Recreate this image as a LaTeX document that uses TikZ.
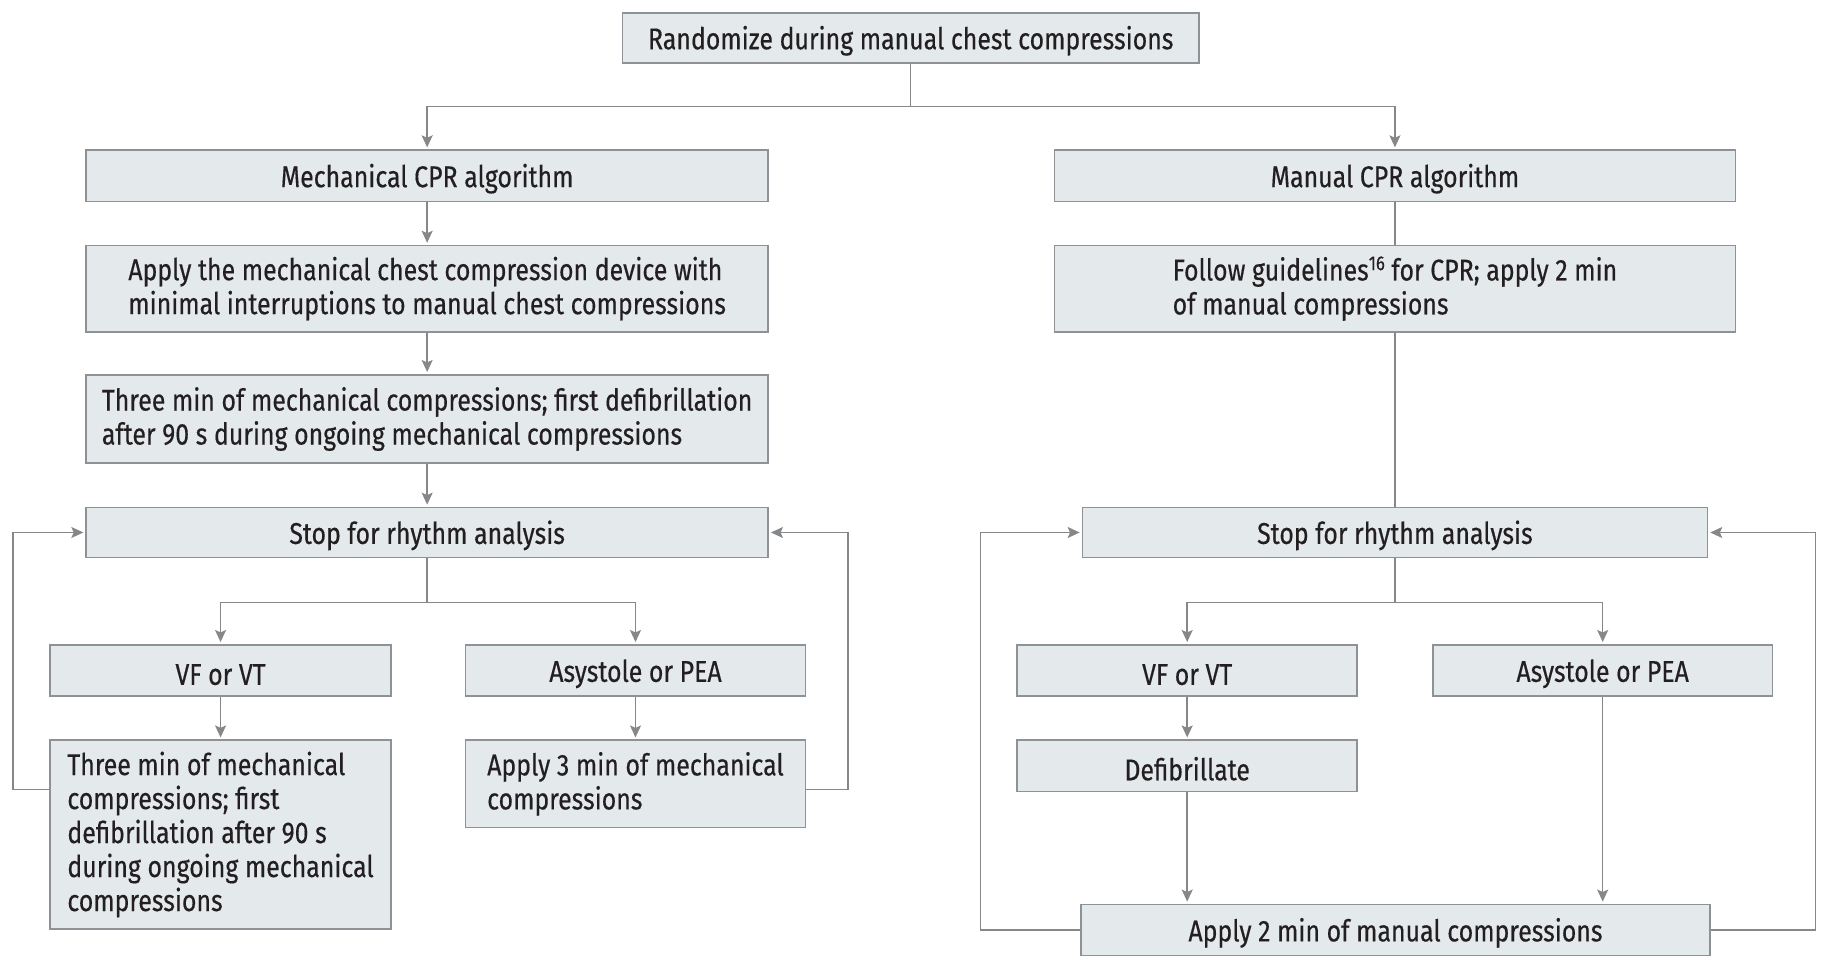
\documentclass[tikz,border=0pt]{standalone}
\usepackage{fontspec}
\setmainfont{Fira Sans}[FakeStretch=0.83,FakeBold=0.4]
\usetikzlibrary{arrows.meta}
\definecolor{boxfill}{HTML}{E4E9EC}
\definecolor{boxline}{HTML}{8E9296}
\definecolor{conn}{HTML}{858789}
\definecolor{txt}{HTML}{231F20}
\newcommand\mybox[6]{\node[bx,minimum width={(#4-#2)*0.582pt},minimum height={(#5-#3)*0.582pt}] (#1) at ({(#2+#4)/2},{(#3+#5)/2}) {#6};}
\newcommand\mysup[1]{\raisebox{5.2pt}{\fontsize{10}{10}\selectfont #1}}
\begin{document}
\begin{tikzpicture}[x=0.582pt,y=-0.582pt,
 bx/.style={draw=boxline,fill=boxfill,line width=0.8pt,inner sep=0pt,text=txt,font=\fontsize{15}{17}\selectfont,align=left,execute at begin node={\rule{0pt}{14.6pt}}},
 ln/.style={draw=conn,line width=0.7pt},
 ar/.style={ln,-{Stealth[length=6pt,width=5.5pt,inset=1.2pt]},shorten >=1pt}]
\useasboundingbox[fill=white] (0,0) rectangle (1568,830);
% boxes
\mybox{top}{535}{11}{1030}{54}{Randomize during manual chest compressions}
\mybox{mech}{74}{129}{660}{173}{Mechanical CPR algorithm}
\mybox{man}{906}{129}{1491}{173}{Manual CPR algorithm}
\mybox{applydev}{74}{211}{660}{285}{Apply the mechanical chest compression device with\\minimal interruptions to manual chest compressions}
\mybox{follow}{906}{211}{1491}{285}{Follow guidelines\mysup{16} for CPR; apply 2 min\\of manual compressions}
\mybox{threeA}{74}{322}{660}{398}{Three min of mechanical compressions; first defibrillation\\after 90 s during ongoing mechanical compressions}
\mybox{stopL}{74}{436}{660}{479}{Stop for rhythm analysis}
\mybox{stopR}{930}{436}{1467}{479}{Stop for rhythm analysis}
\mybox{vfL}{43}{554}{336}{598}{VF or VT}
\mybox{asyL}{400}{554}{692}{598}{Asystole or PEA}
\mybox{vfR}{874}{554}{1166}{598}{VF or VT}
\mybox{asyR}{1231}{554}{1523}{598}{Asystole or PEA}
\mybox{threeL}{43}{636}{336}{798}{Three min of mechanical\\compressions; first\\defibrillation after 90 s\\during ongoing mechanical\\compressions}
\mybox{apply3}{400}{636}{692}{711}{Apply 3 min of mechanical\\compressions}
\mybox{defib}{874}{636}{1166}{680}{Defibrillate}
\mybox{apply2}{929}{777}{1469}{821}{Apply 2 min of manual compressions}
% connectors
\draw[ar] (top.south) -- ++(0,37) -| (mech.north);
\draw[ar] (top.south) -- ++(0,37) -| (man.north);
\draw[ar] (mech) -- (applydev);
\draw[ar] (applydev) -- (threeA);
\draw[ar] (threeA) -- (stopL);
\draw[ar] (stopL.south) -- ++(0,38) -| (vfL.north);
\draw[ar] (stopL.south) -- ++(0,38) -| (asyL.north);
\draw[ar] (vfL) -- (threeL);
\draw[ar] (asyL) -- (apply3);
\draw[ar] (threeL.north west) ++(0,43) -- ++(-31,0) |- (stopL.west);
\draw[ar] (apply3.north east) ++(0,43) -- ++(36,0) |- (stopL.east);
\draw[ln] (man) -- (follow);
\draw[ln] (follow) -- (stopR);
\draw[ar] (stopR.south) -- ++(0,38) -| (vfR.north);
\draw[ar] (stopR.south) -- ++(0,38) -| (asyR.north);
\draw[ar] (vfR) -- (defib);
\draw[ar] (defib.south) -- (defib.south |- apply2.north);
\draw[ar] (asyR.south) -- (asyR.south |- apply2.north);
\draw[ar] (apply2.west) -- ++(-86,0) |- (stopR.west);
\draw[ar] (apply2.east) -- ++(90,0) |- (stopR.east);
\end{tikzpicture}
\end{document}
